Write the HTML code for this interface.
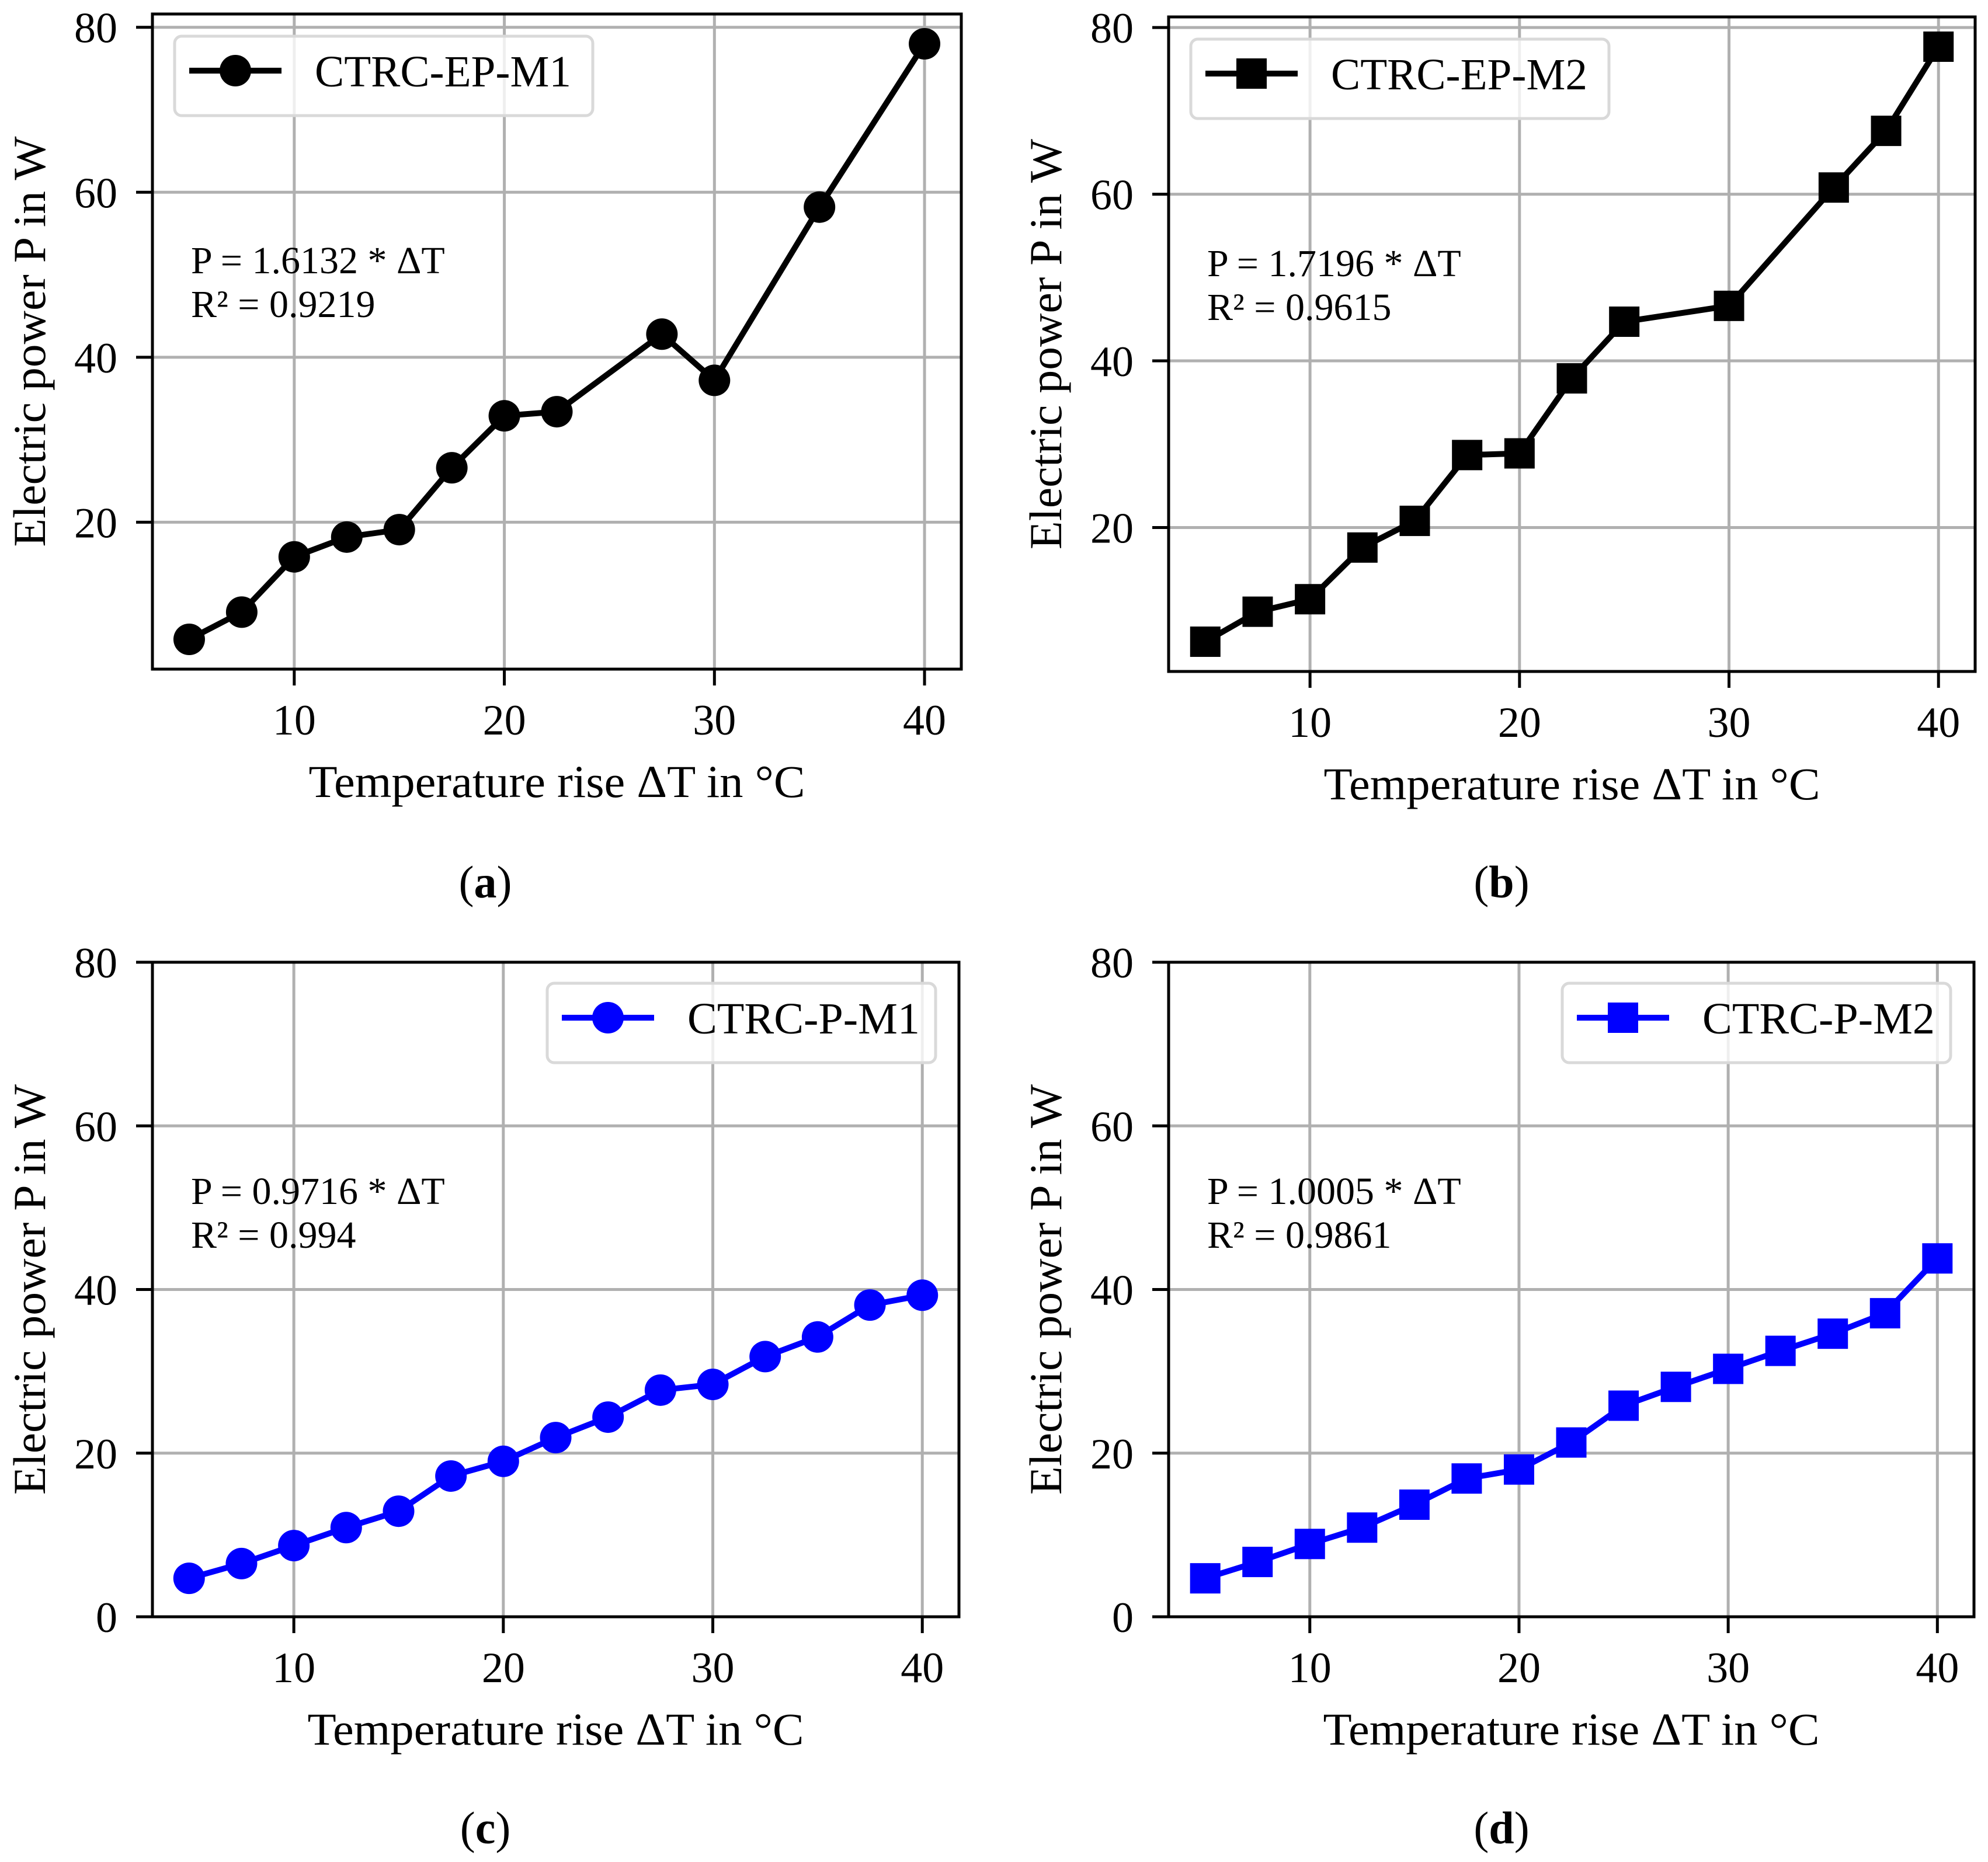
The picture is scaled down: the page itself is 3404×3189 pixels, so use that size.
<!DOCTYPE html>
<html><head><meta charset="utf-8"><style>
html,body{margin:0;padding:0;background:#fff;}
svg{display:block;}
text{font-family:"Liberation Serif",serif;fill:#000;}
</style></head>
<body>
<svg id="fig" width="3404" height="3189" viewBox="0 0 3404 3189" xmlns="http://www.w3.org/2000/svg"></svg>
<script>
// ---- data ----
const xA = [5, 7.5, 10, 12.5, 15, 17.5, 20, 22.5, 27.5, 30, 35, 40];
const yA = [5.8, 9.1, 15.8, 18.2, 19.1, 26.6, 32.9, 33.4, 42.8, 37.2, 58.2, 78.0];
const xB = [5, 7.5, 10, 12.5, 15, 17.5, 20, 22.5, 25, 30, 35, 37.5, 40];
const yB = [6.3, 9.9, 11.4, 17.6, 20.8, 28.7, 28.9, 37.9, 44.7, 46.6, 60.8, 67.6, 77.7];
const xC = [5, 7.5, 10, 12.5, 15, 17.5, 20, 22.5, 25, 27.5, 30, 32.5, 35, 37.5, 40];
const yC = [4.7, 6.5, 8.7, 10.9, 12.9, 17.2, 19.0, 21.9, 24.4, 27.7, 28.4, 31.8, 34.2, 38.1, 39.3];
const xD = [5, 7.5, 10, 12.5, 15, 17.5, 20, 22.5, 25, 27.5, 30, 32.5, 35, 37.5, 40];
const yD = [4.7, 6.7, 8.9, 10.9, 13.7, 16.9, 18.0, 21.3, 25.8, 28.1, 30.3, 32.5, 34.6, 37.1, 43.8];
const xTicks = [10, 20, 30, 40];
const yTicksTop = [20, 40, 60, 80];
const yTicksBottom = [0, 20, 40, 60, 80];
const seriesNames = ["CTRC-EP-M1", "CTRC-EP-M2", "CTRC-P-M1", "CTRC-P-M2"];
const eqLines = [["P = 1.6132 * \u0394T", "R\u00B2 = 0.9219"], ["P = 1.7196 * \u0394T", "R\u00B2 = 0.9615"], ["P = 0.9716 * \u0394T", "R\u00B2 = 0.994"], ["P = 1.0005 * \u0394T", "R\u00B2 = 0.9861"]];
const subLabels = ["a", "b", "c", "d"];

const NS = "http://www.w3.org/2000/svg";
const svg = document.getElementById('fig');
function mk(tag, attrs, parent) {
  const e = document.createElementNS(NS, tag);
  for (const k in attrs) e.setAttribute(k, attrs[k]);
  (parent || svg).appendChild(e);
  return e;
}
function autoLim(arr) {
  const mn = Math.min(...arr), mx = Math.max(...arr), m = (mx - mn) * 0.05;
  return [mn - m, mx + m];
}

const panels = [
  {xs: xA, ys: yA, L: 261, R: 1646, T: 24, B: 1146, ylim: autoLim(yA), yt: yTicksTop, color: '#000', marker: 'circle', legRight: false},
  {xs: xB, ys: yB, L: 2001, R: 3382, T: 29, B: 1150, ylim: autoLim(yB), yt: yTicksTop, color: '#000', marker: 'square', legRight: false},
  {xs: xC, ys: yC, L: 261, R: 1642, T: 1648, B: 2769, ylim: [0, 80], yt: yTicksBottom, color: '#0000ff', marker: 'circle', legRight: true},
  {xs: xD, ys: yD, L: 2001, R: 3380, T: 1648, B: 2769, ylim: [0, 80], yt: yTicksBottom, color: '#0000ff', marker: 'square', legRight: true}
];

panels.forEach((p, i) => {
  const g = mk('g', {});
  
  
  const xl = autoLim(p.xs);
  const sx = v => p.L + (v - xl[0]) / (xl[1] - xl[0]) * (p.R - p.L);
  const sy = v => p.B - (v - p.ylim[0]) / (p.ylim[1] - p.ylim[0]) * (p.B - p.T);

  // grid
  xTicks.forEach(t => {
    const l = mk('line', {x1: sx(t), x2: sx(t), y1: p.T, y2: p.B, stroke: '#b0b0b0', 'stroke-width': 5}, g);
    
    
  });
  p.yt.forEach(t => {
    const l = mk('line', {x1: p.L, x2: p.R, y1: sy(t), y2: sy(t), stroke: '#b0b0b0', 'stroke-width': 5}, g);
    
    
  });
  // ticks + labels
  xTicks.forEach(t => {
    mk('line', {x1: sx(t), x2: sx(t), y1: p.B, y2: p.B + 28, stroke: '#000', 'stroke-width': 5}, g);
    const tx = mk('text', {x: sx(t), y: p.B + 112, 'font-size': 74, 'text-anchor': 'middle'}, g);
    tx.textContent = t;
    
    
  });
  p.yt.forEach(t => {
    mk('line', {x1: p.L - 28, x2: p.L, y1: sy(t), y2: sy(t), stroke: '#000', 'stroke-width': 5}, g);
    const tx = mk('text', {x: p.L - 60, y: sy(t) + 26, 'font-size': 74, 'text-anchor': 'end'}, g);
    tx.textContent = t;
    
    
  });
  // axis titles
  const xt = mk('text', {x: (p.L + p.R) / 2, y: p.B + 219, 'font-size': 78, 'text-anchor': 'middle', textLength: 850, lengthAdjust: 'spacingAndGlyphs'}, g);
  xt.textContent = 'Temperature rise \u0394T in \u00B0C';
  
  
  const cy = (p.T + p.B) / 2;
  const yx = p.L - 184;
  const yt = mk('text', {x: yx, y: cy, 'font-size': 78, 'text-anchor': 'middle', transform: `rotate(-90 ${yx} ${cy})`, textLength: 703, lengthAdjust: 'spacingAndGlyphs'}, g);
  yt.textContent = 'Electric power P in W';
  
  

  // series
  const pts = p.xs.map((x, k) => sx(x) + ',' + sy(p.ys[k])).join(' ');
  const pl = mk('polyline', {points: pts, fill: 'none', stroke: p.color, 'stroke-width': 10, 'stroke-linejoin': 'round'}, g);
  
  
  p.xs.forEach((x, k) => {
    let m;
    if (p.marker === 'circle') m = mk('circle', {cx: sx(x), cy: sy(p.ys[k]), r: 27, fill: p.color}, g);
    else m = mk('rect', {x: sx(x) - 26, y: sy(p.ys[k]) - 26, width: 52, height: 52, fill: p.color}, g);
    
    
  });

  // spines
  const sp = mk('rect', {x: p.L, y: p.T, width: p.R - p.L, height: p.B - p.T, fill: 'none', stroke: '#000', 'stroke-width': 5}, g);
  
  

  // equation annotation
  const ey = p.T + 444 + (i >= 2 ? -30 : 0);
  eqLines[i].forEach((s, k) => {
    const t = mk('text', {x: p.L + 66, y: ey + k * 75, 'font-size': 66}, g);
    t.textContent = s;
    
    
  });

  // legend
  const lg = mk('g', {}, g);
  
  
  const lw = p.legRight ? 665 : 716;
  const lx = p.legRight ? p.R - 40 - lw : p.L + 38;
  const ly = p.legRight ? p.T + 36 : p.T + 38;
  mk('rect', {x: lx, y: ly, width: lw, height: 136, rx: 12, fill: '#fff', 'fill-opacity': 0.8, stroke: '#d9d9d9', 'stroke-width': 5}, lg);
  const my = ly + 59;
  mk('line', {x1: lx + 25, x2: lx + 183, y1: my, y2: my, stroke: p.color, 'stroke-width': 10}, lg);
  if (p.marker === 'circle') mk('circle', {cx: lx + 104, cy: my, r: 27, fill: p.color}, lg);
  else mk('rect', {x: lx + 78, y: my - 26, width: 52, height: 52, fill: p.color}, lg);
  const lt = mk('text', {x: lx + 240, y: my + 27, 'font-size': 76, textLength: p.legRight ? 398 : 439, lengthAdjust: 'spacingAndGlyphs'}, lg);
  lt.textContent = seriesNames[i];
  
  

  // subfigure label
  const sl = mk('text', {x: p.L + 570, y: i < 2 ? 1537 : 3157, 'font-size': 78, 'text-anchor': 'middle'}, g);
  sl.innerHTML = '(<tspan font-weight="bold">' + subLabels[i] + '</tspan>)';
  
  
});
</script>
</body></html>
